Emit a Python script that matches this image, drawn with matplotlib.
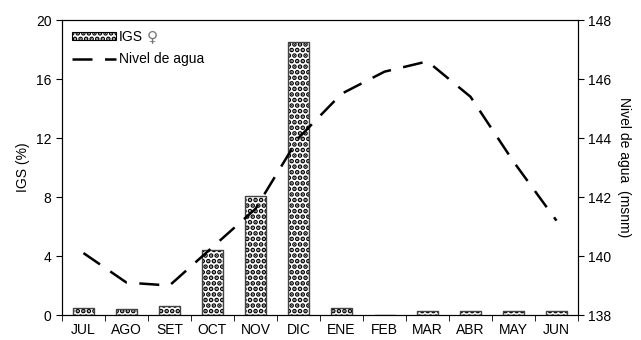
import matplotlib
matplotlib.use("Agg")
import matplotlib.pyplot as plt
import numpy as np

MONTHS = ["JUL", "AGO", "SET", "OCT", "NOV", "DIC", "ENE", "FEB", "MAR", "ABR", "MAY", "JUN"]
IGS = [0.45, 0.4, 0.6, 4.4, 8.1, 18.5, 0.45, 0.0, 0.3, 0.3, 0.3, 0.3]
NIVEL = [140.1, 139.1, 139.0, 140.3, 141.6, 144.0, 145.5, 146.25, 146.6, 145.4, 143.2, 141.2]

plt.rcParams["font.family"] = ["Liberation Sans", "DejaVu Sans"]
plt.rcParams["hatch.linewidth"] = 2.4

fig = plt.figure(figsize=(6.41, 3.4), dpi=100)
ax = fig.add_axes([0.0967, 0.0735, 0.805, 0.8675])
x = np.arange(len(MONTHS))

# dotted fill like the original; edge drawn in grey on top
bars = ax.bar(x, IGS, width=0.47, color="white", edgecolor="black",
              hatch="...", linewidth=0.8, zorder=2)
ax.bar(x, IGS, width=0.47, color="none", edgecolor="#444444",
       linewidth=0.9, zorder=3)
ax.set_xlim(-0.5, len(MONTHS) - 0.5)
ax.set_ylim(0, 20)
ax.set_yticks([0, 4, 8, 12, 16, 20])
ax.set_ylabel("IGS (%)", fontsize=10)
ax.set_xticks(x)
ax.set_xticklabels(MONTHS, fontsize=10)
ax.tick_params(axis="x", length=0, pad=6)
ax.set_xticks(np.arange(-0.5, len(MONTHS)), minor=True)
ax.tick_params(axis="x", which="minor", length=4, direction="out")
ax.tick_params(axis="y", labelsize=10, length=4, direction="out")

ax2 = ax.twinx()
line, = ax2.plot(x, NIVEL, color="black", linewidth=1.8, dashes=(8, 5))
ax2.set_ylim(138, 148)
ax2.set_yticks([138, 140, 142, 144, 146, 148])
ax2.tick_params(axis="y", labelsize=10, length=4, direction="out")
ax2.set_ylabel("Nivel de agua  (msnm)", fontsize=10, rotation=270, labelpad=14)

for a in (ax, ax2):
    for s in a.spines.values():
        s.set_linewidth(0.8)

leg = ax.legend([bars, line], ["IGS", "Nivel de agua"], loc="upper left",
                frameon=False, fontsize=10, handlelength=3.2, handleheight=0.5,
                handletextpad=0.2, borderaxespad=0.3, labelspacing=0.6)
# female sign after "IGS", grey and a bit larger like the original
fig.canvas.draw()
bb = leg.get_texts()[0].get_window_extent()
fig.text(bb.x1 + 4, (bb.y0 + bb.y1) / 2, "\u2640", transform=None, fontsize=11,
         color="#777777", family="DejaVu Sans", va="center", ha="left")

fig.savefig("out.png", dpi=100)
